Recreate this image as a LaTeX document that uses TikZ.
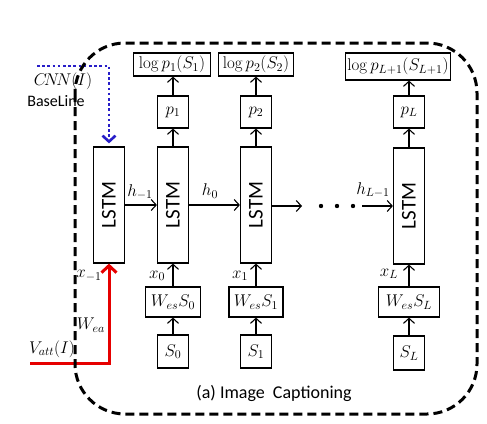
\RequirePackage{fix-cm}
\documentclass[tikz,border=0pt]{standalone}
\usepackage{amsmath,amssymb}
\usepackage[no-math]{fontspec}
\setmainfont{Carlito}
\usepackage{tikz}
\usetikzlibrary{arrows.meta}

\definecolor{attred}{RGB}{230,0,0}
\definecolor{cnnblue}{RGB}{40,30,200}

\begin{document}
\begin{tikzpicture}[x=1pt, y=-1pt,
  font=\fontsize{17}{20}\selectfont,
  box/.style={draw, line width=1.2pt, inner sep=0pt},
  lstm/.style={box, minimum width=31pt, minimum height=116pt, font=\fontsize{21}{25}\selectfont},
  pbox/.style={box, minimum width=31pt, minimum height=32pt},
  logbox/.style={box, minimum height=23pt, inner xsep=2pt},
  wbox/.style={box, minimum height=30pt},
  sbox/.style={box, minimum width=31pt, minimum height=33pt},
  link/.style={-{Straight Barb[length=5pt,width=11pt]}, line width=1.1pt},
  lbl/.style={inner sep=0pt}]
\useasboundingbox (0,0) rectangle (487,423);

\node [lstm] (lstmA) at (109,205) {\rotatebox{90}{LSTM}};
\node [lstm] (lstm0) at (173,205) {\rotatebox{90}{LSTM}};
\node [lstm] (lstm1) at (256,205) {\rotatebox{90}{LSTM}};
\node [lstm] (lstmL) at (409,206) {\rotatebox{90}{LSTM}};

\node [pbox] (p1) at (173,112) {$p_1$};
\node [pbox] (p2) at (256,112) {$p_2$};
\node [pbox] (pL) at (409,112) {$p_L$};

\node [logbox, minimum width=77pt] (log1) at (172,64.5) {$\log p_1(S_1)$};
\node [logbox, minimum width=75pt] (log2) at (256,64.5) {$\log p_2(S_2)$};
\node [logbox, minimum width=104pt, minimum height=27pt] (logL) at (398,66.5) {$\log p_{L+1}(S_{L+1})$};

\node [wbox, minimum width=55pt] (w0) at (173,302) {$W_{es}S_0$};
\node [wbox, minimum width=54pt] (w1) at (256,302) {$W_{es}S_1$};
\node [wbox, minimum width=61pt] (wL) at (409,302) {$W_{es}S_L$};

\node [sbox] (s0) at (173,351.5) {$S_0$};
\node [sbox] (s1) at (256,351.5) {$S_1$};
\node [sbox, minimum height=34pt] (sL) at (409,353) {$S_L$};

\draw [link] (s0) -- (s0 |- w0.south);
\draw [link] (s1) -- (s1 |- w1.south);
\draw [link] (sL) -- (sL |- wL.south);
\draw [link] (w0) -- (w0 |- lstm0.south);
\draw [link] (w1) -- (w1 |- lstm1.south);
\draw [link] (wL) -- (wL |- lstmL.south);
\draw [link] (lstm0) -- (lstm0 |- p1.south);
\draw [link] (lstm1) -- (lstm1 |- p2.south);
\draw [link] (lstmL) -- (lstmL |- pL.south);
\draw [link] (p1) -- (p1 |- log1.south);
\draw [link] (p2) -- (p2 |- log2.south);
\draw [link] (pL) -- (pL |- logL.south);

\coordinate (gapA) at (302,206);
\coordinate (gapB) at (362,206);
\draw [link] (lstmA) -- (lstm0);
\draw [link] (lstm0) -- (lstm1);
\draw [link] (lstm1.east |- gapA) -- (gapA);
\draw [link] (gapB) -- (gapB -| lstmL.west);
\foreach \x in {321,337,353}
  \fill (\x,206) circle (2.2pt);

\node [lbl] (hA) at (140,192) {$h_{-1}$};
\node [lbl] (h0) at (210,191) {$h_0$};
\node [lbl] (hL) at (373,190) {$h_{L-1}$};
\node [lbl] (xA) at (89,276) {$x_{-1}$};
\node [lbl] (x0) at (157,276) {$x_0$};
\node [lbl] (x1) at (240,276) {$x_1$};
\node [lbl] (xL) at (389,274) {$x_L$};

% attention input
\coordinate (vatt) at (30,363);
\draw [attred, line width=3pt, -{Straight Barb[length=7pt,width=15pt]}] (vatt) -| (lstmA);
\node [lbl] (vlbl) at (52,349) {$V_{att}(I)$};
\node [lbl] (wea) at (91,325) {$W_{ea}$};

% baseline input
\coordinate (cnn) at (37,66);
\draw [cnnblue, line width=2.6pt, dash pattern=on 2.6pt off 2.6pt, -{Straight Barb[length=6pt,width=13pt]}, shorten >=3pt] (cnn) -| (lstmA);
\node [lbl] (cnnlbl) at (63,81) {$C\!N\!N(I)$};
\node [lbl, font=\fontsize{16}{19}\selectfont] (base) at (56,101) {BaseLine};

\draw [dashed, dash pattern=on 9pt off 5pt, line width=3pt, rounded corners=50pt] (75,43) rectangle (477,414);

\node [font=\fontsize{18}{22}\selectfont] (caption) at (274,393) {(a) Image\ \ Captioning};

\end{tikzpicture}
\end{document}
